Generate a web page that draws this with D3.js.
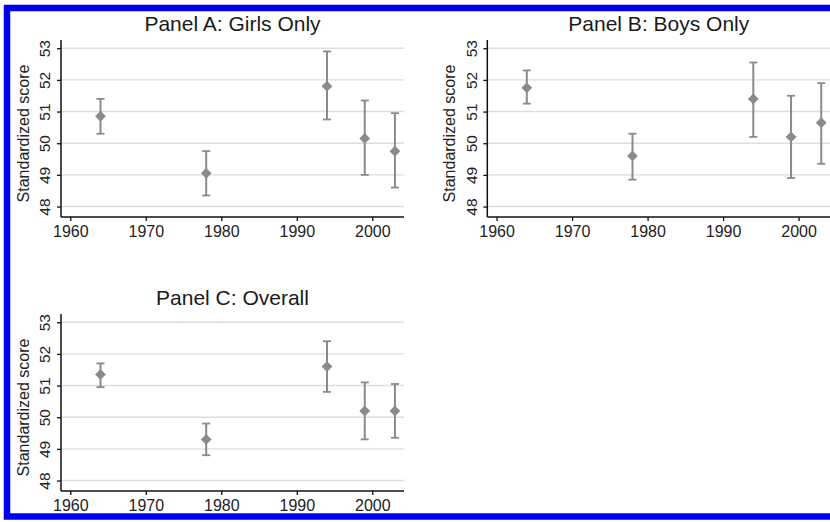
<!DOCTYPE html>
<html>
<head>
<meta charset="utf-8">
<script src="https://cdn.jsdelivr.net/npm/d3@7"></script>
<style>
  body { margin: 0; background: #fff; overflow: hidden; }
  svg { display: block; font-family: "Liberation Sans", Arial, sans-serif; }
</style>
</head>
<body>
<svg id="chart" width="830" height="522"></svg>
<script>
const years = [1964, 1978, 1994, 1999, 2003];

const girlsMean = [50.85, 49.05, 51.8, 50.15, 49.75];
const girlsLo = [50.3, 48.35, 50.75, 49.0, 48.6];
const girlsHi = [51.4, 49.75, 52.9, 51.35, 50.95];

const boysMean = [51.75, 49.6, 51.4, 50.2, 50.65];
const boysLo = [51.25, 48.85, 50.2, 48.9, 49.35];
const boysHi = [52.3, 50.3, 52.55, 51.5, 51.9];

const allMean = [51.35, 49.3, 51.6, 50.2, 50.2];
const allLo = [50.95, 48.8, 50.8, 49.3, 49.35];
const allHi = [51.7, 49.8, 52.4, 51.1, 51.05];

const xTicks = [1960, 1970, 1980, 1990, 2000];
const yTicks = [48, 49, 50, 51, 52, 53];

const panels = [
  {title: "Panel A: Girls Only", mean: girlsMean, lo: girlsLo, hi: girlsHi, left: 61, bottom: 217},
  {title: "Panel B: Boys Only", mean: boysMean, lo: boysLo, hi: boysHi, left: 487.3, bottom: 217},
  {title: "Panel C: Overall", mean: allMean, lo: allLo, hi: allHi, left: 61, bottom: 491}
];

const svg = d3.select("#chart");
const plotW = 343, plotH = 177;
const grey = "#8a8a8a";

panels.forEach(p => {
  const x = d3.scaleLinear().domain([1958.77, 2004.2]).range([p.left, p.left + plotW]);
  const y = d3.scaleLinear().domain([47.67, 53.26]).range([p.bottom, p.bottom - plotH]);
  const g = svg.append("g");

  // gridlines
  g.selectAll("line.grid")
    .data(yTicks)
    .join("line")
    .attr("class", "grid")
    .attr("x1", p.left).attr("x2", p.left + plotW)
    .attr("y1", d => y(d)).attr("y2", d => y(d))
    .attr("stroke", "#dedede")
    .attr("stroke-width", 1.4);

  // y axis
  const ya = g.append("g")
    .attr("transform", `translate(${p.left},0)`)
    .call(d3.axisLeft(y).tickValues(yTicks).tickSize(4).tickPadding(4).tickFormat(d3.format("d")));
  ya.select(".domain").attr("stroke", "#111").attr("stroke-width", 1.5).attr("d", `M-0,${p.bottom}V${p.bottom - plotH}`);
  ya.selectAll(".tick line").attr("stroke", "#111").attr("stroke-width", 1.3);
  ya.selectAll(".tick text")
    .attr("x", null).attr("dy", null)
    .attr("text-anchor", "middle")
    .attr("transform", "translate(-16,0) rotate(-90)")
    .attr("dy", "0.35em")
    .attr("fill", "#222")
    .style("font-size", "15.5px");

  // x axis
  const xa = g.append("g")
    .attr("transform", `translate(0,${p.bottom})`)
    .call(d3.axisBottom(x).tickValues(xTicks).tickSize(4).tickPadding(5).tickFormat(d3.format("d")));
  xa.select(".domain").attr("stroke", "#111").attr("stroke-width", 1.5).attr("d", `M${p.left},0H${p.left + plotW}`);
  xa.selectAll(".tick line").attr("stroke", "#111").attr("stroke-width", 1.3);
  xa.selectAll(".tick text").attr("fill", "#222").style("font-size", "16px");

  // y axis title
  g.append("text")
    .attr("transform", `translate(${p.left - 38},${p.bottom - plotH / 2 + 5}) rotate(-90)`)
    .attr("text-anchor", "middle")
    .attr("dy", "0.35em")
    .attr("fill", "#222")
    .style("font-size", "16px")
    .text("Standardized score");

  // title
  g.append("text")
    .attr("x", p.left + plotW / 2)
    .attr("y", p.bottom - plotH - 9)
    .attr("text-anchor", "middle")
    .attr("fill", "#1a1a1a")
    .style("font-size", "21px")
    .text(p.title);

  // error bars
  const rows = years.map((yr, i) => ({yr, m: p.mean[i], lo: p.lo[i], hi: p.hi[i]}));
  const eb = g.selectAll("g.eb").data(rows).join("g").attr("class", "eb");
  eb.append("line")
    .attr("x1", d => x(d.yr)).attr("x2", d => x(d.yr))
    .attr("y1", d => y(d.lo)).attr("y2", d => y(d.hi))
    .attr("stroke", grey).attr("stroke-width", 2);
  eb.append("line")
    .attr("x1", d => x(d.yr) - 4).attr("x2", d => x(d.yr) + 4)
    .attr("y1", d => y(d.lo)).attr("y2", d => y(d.lo))
    .attr("stroke", grey).attr("stroke-width", 1.8);
  eb.append("line")
    .attr("x1", d => x(d.yr) - 4).attr("x2", d => x(d.yr) + 4)
    .attr("y1", d => y(d.hi)).attr("y2", d => y(d.hi))
    .attr("stroke", grey).attr("stroke-width", 1.8);

  // diamond markers (square turned 45 degrees)
  g.selectAll("path.pt")
    .data(rows)
    .join("path")
    .attr("class", "pt")
    .attr("d", d3.symbol(d3.symbolSquare, 58))
    .attr("transform", d => `translate(${x(d.yr)},${y(d.m)}) rotate(45)`)
    .attr("fill", grey);
});

// blue frame around the figure (right side runs off the picture)
svg.append("rect")
  .attr("x", 7).attr("y", 8)
  .attr("width", 900).attr("height", 508.5)
  .attr("fill", "none")
  .attr("stroke", "#0000f0")
  .attr("stroke-width", 6.5);
</script>
</body>
</html>
